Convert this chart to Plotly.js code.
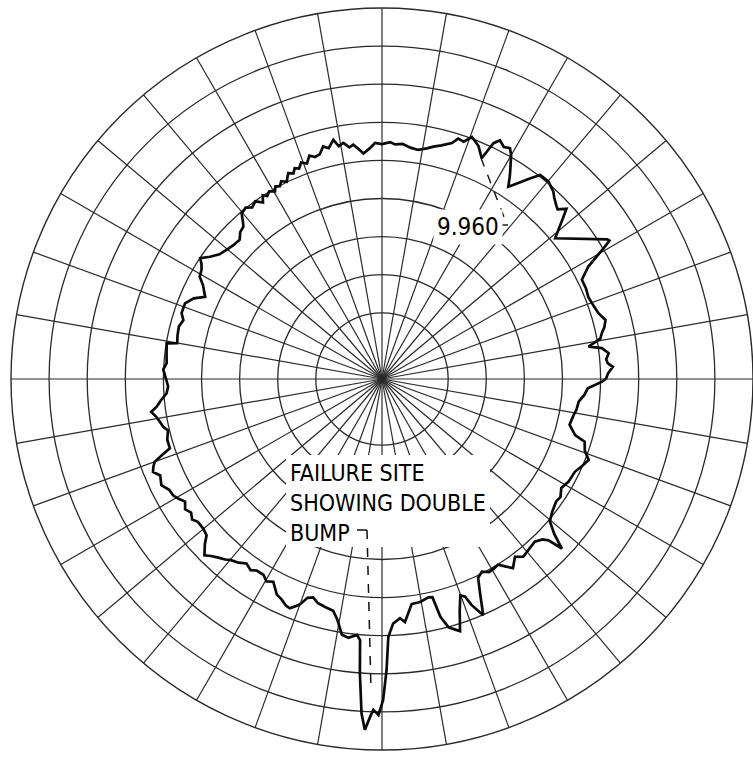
<!DOCTYPE html>
<html>
<head>
<meta charset="utf-8">
<script src="https://cdn.plot.ly/plotly-3.0.1.min.js"></script>
<style>html,body{margin:0;padding:0;background:#fff;}#chart{width:753px;height:757px;}</style>
</head>
<body>
<div id="chart"></div>
<script>
// Angle of each trace reading (degrees, counter-clockwise from east)
var thetaDeg = [
  0, 1.5, 3, 4, 5, 6.5, 8, 8.9, 10.5, 12,
  13, 14.8, 16.9, 19, 21.7, 24, 26.4, 28.6, 29.5, 30.7,
  31.3, 31.8, 39.1, 40.5, 41.5, 42.7, 44.0, 44.9, 46.5, 47.6,
  49.9, 52.2, 53.6, 55.0, 56.7, 57.8, 58.7, 60.0, 61.0, 62.3,
  63.7, 64.7, 65.7, 67.5, 69.6, 71.0, 72.4, 73.5, 75.7, 77.5,
  79.0, 81.0, 83.0, 85.0, 86.8, 88.0, 90.0, 91.7, 93.0, 94.7,
  96.0, 97.0, 98.0, 99.3, 100.5, 101.5, 103.0, 104.2, 105.5, 106.8,
  108.0, 109.2, 110.5, 111.5, 112.5, 113.3, 114.5, 115.8, 117.0, 117.9,
  119.0, 119.7, 121.0, 122.1, 123.0, 124.0, 125.5, 127.1, 128.5, 130.3,
  131.5, 132.3, 134.0, 135.6, 138.0, 140.3, 142.5, 144.6, 146.4, 147.5,
  148.8, 150.7, 152.3, 155.1, 156.8, 159.0, 161.8, 163.5, 165.5, 168.0,
  170.1, 170.6, 173.0, 175.8, 177.5, 180.0, 182.0, 183.8, 185.5, 187.0,
  188.1, 189.5, 190.9, 192.3, 193.5, 195.8, 198.1, 199.0, 200.0, 201.0,
  202.1, 203.5, 205.7, 207.5, 209.1, 210.5, 211.9, 213.5, 215.0, 216.5,
  217.8, 220.0, 221.7, 223.0, 224.8, 226.0, 227.5, 229.0, 230.0, 232.0,
  233.7, 235.5, 236.8, 238.8, 240.3, 241.8, 244.0, 245.5, 247.0, 248.1,
  249.2, 250.1, 251.2, 252.5, 254.0, 256.0, 258.1, 259.5, 261.1, 262.6,
  264.4, 265.2, 265.7, 266.5, 267.2, 268.0, 268.5, 269.4, 270.2, 270.9,
  271.4, 272.6, 274.3, 275.4, 277.5, 279.7, 282.0, 283.0, 283.8, 285.0,
  286.6, 287.2, 288.5, 289.9, 290.9, 291.6, 293.2, 294.5, 295.8, 297.4,
  299.0, 300.5, 302.0, 303.5, 304.7, 306.8, 308.5, 310.6, 313.2, 315.0,
  315.9, 316.7, 318.0, 319.7, 322.0, 324.9, 326.5, 328.7, 331.1, 334.3,
  336.5, 338.6, 340.5, 342.8, 343.8, 346.3, 349.3, 351.0, 353.4, 355.5,
  357.4, 359.3, 360
];
// Trace radius at each angle, in chart divisions (concentric circles = 1..9)
var radiusDiv = [
  5.14, 5.20, 5.33, 5.20, 5.17, 5.25, 5.09, 4.75, 5.09, 5.17,
  5.25, 5.33, 5.20, 5.14, 5.09, 5.12, 5.12, 5.43, 5.69, 6.06,
  6.25, 6.22, 5.12, 5.38, 5.59, 5.85, 5.67, 5.72, 5.83, 5.93,
  6.04, 6.04, 5.80, 5.56, 5.30, 5.56, 5.75, 6.04, 6.19, 6.14,
  6.25, 6.11, 5.62, 5.88, 6.04, 5.85, 5.88, 5.72, 5.59, 5.51,
  5.43, 5.35, 5.38, 5.46, 5.43, 5.48, 5.43, 5.46, 5.33, 5.20,
  5.35, 5.46, 5.40, 5.54, 5.48, 5.67, 5.48, 5.56, 5.38, 5.35,
  5.43, 5.25, 5.33, 5.20, 5.25, 5.14, 5.20, 5.01, 5.09, 4.99,
  5.04, 4.93, 5.01, 4.93, 5.01, 4.85, 4.99, 4.91, 5.01, 4.96,
  4.77, 4.67, 4.62, 4.49, 4.51, 4.57, 4.64, 4.80, 4.99, 4.88,
  4.80, 4.75, 4.57, 4.38, 4.64, 4.80, 4.80, 4.70, 4.77, 4.75,
  4.72, 4.99, 4.96, 4.93, 5.01, 4.93, 4.88, 4.93, 5.09, 5.22,
  5.38, 5.27, 5.20, 5.14, 5.04, 5.12, 5.12, 5.35, 5.61, 5.69,
  5.75, 5.61, 5.69, 5.56, 5.54, 5.46, 5.35, 5.46, 5.38, 5.46,
  5.38, 5.38, 5.43, 5.62, 5.83, 5.72, 5.62, 5.54, 5.46, 5.38,
  5.27, 5.35, 5.27, 5.27, 5.38, 5.30, 5.56, 5.62, 5.72, 5.75,
  5.64, 5.54, 5.33, 5.27, 5.38, 5.43, 5.48, 5.69, 6.06, 6.11,
  6.01, 6.14, 7.01, 8.06, 8.48, 8.13, 7.95, 8.08, 7.69, 6.90,
  6.04, 5.69, 5.56, 5.67, 5.22, 5.20, 5.12, 5.14, 5.69, 6.01,
  6.14, 6.19, 5.69, 5.30, 5.38, 5.64, 6.01, 5.48, 5.06, 4.96,
  5.06, 5.04, 5.01, 5.17, 5.30, 5.09, 5.22, 5.17, 5.12, 5.22,
  5.35, 5.75, 5.35, 5.04, 4.93, 4.85, 4.88, 4.77, 4.85, 4.88,
  4.99, 5.09, 4.91, 4.83, 4.54, 4.33, 4.38, 4.43, 4.46, 4.59,
  4.67, 5.04, 5.14
];
var circleTicks = [1, 2, 3, 4, 5, 6, 7, 8, 9];
var spokeAngles = [];
for (var a = 0; a < 360; a += 10) spokeAngles.push(a);
var labelDiameter = "9.960";
var labelFailure = "FAILURE SITE<br>SHOWING DOUBLE<br>BUMP";

var W = 753, H = 757;
function px(x) { return x / W; }
function py(y) { return 1 - y / H; }
var gridCol = '#2a2a2a';
var fontFam = '"Liberation Sans Narrow", "DejaVu Sans Condensed", "Arial Narrow", "Liberation Sans", sans-serif';

var trace = {
  type: 'scatterpolar',
  mode: 'lines',
  r: radiusDiv,
  theta: thetaDeg,
  line: {color: '#0a0a0a', width: 2.7, shape: 'linear'},
  hoverinfo: 'skip',
  showlegend: false
};

var layout = {
  width: W, height: H,
  margin: {l: 0, r: 0, t: 0, b: 0, pad: 0},
  paper_bgcolor: '#fff',
  showlegend: false,
  polar: {
    domain: {x: [px(11), 1], y: [py(750), py(8)]},
    bgcolor: '#fff',
    radialaxis: {
      range: [-0.737, 9],
      tickvals: circleTicks,
      showticklabels: false,
      ticks: '',
      showline: false,
      gridcolor: gridCol,
      gridwidth: 1.3
    },
    angularaxis: {
      tickvals: spokeAngles,
      showticklabels: false,
      ticks: '',
      direction: 'counterclockwise',
      rotation: 0,
      gridcolor: gridCol,
      gridwidth: 1.2,
      showline: true,
      linecolor: gridCol,
      linewidth: 1.4
    }
  },
  shapes: [
    {type: 'rect', xref: 'paper', yref: 'paper', layer: 'above',
     x0: px(286), x1: px(490), y0: py(547), y1: py(455),
     fillcolor: '#fff', line: {width: 0}},
    {type: 'line', xref: 'paper', yref: 'paper', layer: 'above',
     x0: px(357), y0: py(530), x1: px(367), y1: py(530),
     line: {color: '#111', width: 1.5}},
    {type: 'line', xref: 'paper', yref: 'paper', layer: 'above',
     x0: px(367), y0: py(530), x1: px(371), y1: py(690),
     line: {color: '#111', width: 1.5, dash: 'dash'}},
    {type: 'line', xref: 'paper', yref: 'paper', layer: 'above',
     x0: px(481), y0: py(158), x1: px(506), y1: py(222),
     line: {color: '#111', width: 1.4, dash: 'dash'}},
    {type: 'line', xref: 'paper', yref: 'paper', layer: 'above',
     x0: px(499), y0: py(225), x1: px(508), y1: py(225),
     line: {color: '#111', width: 1.4}}
  ],
  annotations: [
    {text: labelDiameter, xref: 'paper', yref: 'paper',
     x: px(433), y: py(227), xanchor: 'left', yanchor: 'middle',
     showarrow: false, bgcolor: '#fff', borderpad: 3,
     font: {family: fontFam, size: 24, color: '#000'}},
    {text: labelFailure, xref: 'paper', yref: 'paper', align: 'left',
     x: px(289), y: py(503), xanchor: 'left', yanchor: 'middle',
     showarrow: false, borderpad: 0,
     font: {family: fontFam, size: 23, color: '#000'}}
  ]
};

Plotly.newPlot('chart', [trace], layout, {staticPlot: true, displayModeBar: false});
</script>
</body>
</html>
